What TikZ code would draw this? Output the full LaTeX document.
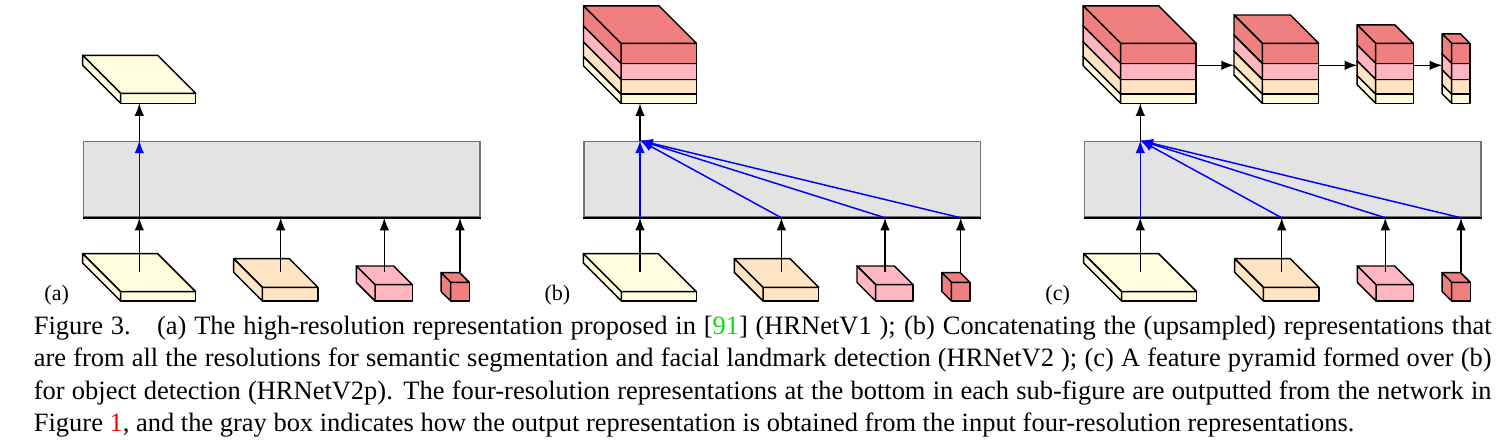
\documentclass[tikz,border=0pt]{standalone}
\usepackage{fontspec}
\setmainfont{Liberation Serif}
\usetikzlibrary{arrows}

\definecolor{resyellow}{HTML}{FFFDDD}
\definecolor{respeach}{HTML}{FFE4C4}
\definecolor{respink}{HTML}{FFB6C1}
\definecolor{resred}{HTML}{F08080}
\definecolor{boxgray}{HTML}{E3E3E3}
\definecolor{citegreen}{HTML}{00E000}

\newcommand{\px}{0.34pt}
\newcommand{\capline}[1]{\makebox[495.6pt][s]{#1}}

% cuboid: name, front-left-bottom x, y, width, height, depth, colour
\newcommand{\cuboid}[7]{%
  \begin{scope}[shift={(#2,#3)}]
    \filldraw[face, fill=#7] (0,0) rectangle (#4,-#5);
    \filldraw[face, fill=#7] (0,-#5) -- ++(-#6,-#6) -- ++(#4,0) -- ++(#6,#6) -- cycle;
    \filldraw[face, fill=#7] (0,0) -- (0,-#5) -- ++(-#6,-#6) -- ++(0,#5) -- cycle;
    \coordinate (#1) at (0,0);
  \end{scope}}

% four stacked layers: name, x, y, width, depth
\newcommand{\layers}[5]{%
  \cuboid{#1-l1}{#2}{#3}{#4}{9.3}{#5}{resyellow}
  \cuboid{#1-l2}{#2}{#3-9.3}{#4}{14.7}{#5}{respeach}
  \cuboid{#1-l3}{#2}{#3-24}{#4}{16}{#5}{respink}
  \cuboid{#1-l4}{#2}{#3-40}{#4}{20}{#5}{resred}
  \coordinate (#1) at (#2,#3);
  \coordinate (#1-east) at (#2+#4,#3-38);
  \coordinate (#1-west) at (#2-#5,#3-38);}

\begin{document}
\begin{tikzpicture}[x=\px, y=-\px,
    face/.style={draw=black, line width=0.5pt, line join=round},
    fusebox/.style={anchor=north west, draw=black!55, fill=boxgray, line width=0.6pt,
      inner sep=0pt, minimum width=396.3*\px, minimum height=75.5*\px},
    link/.style={-latex, line width=0.5pt},
    fuse/.style={-latex, blue, line width=0.5pt},
    sublabel/.style={anchor=base, font=\fontsize{7.5}{9}\selectfont},
    caption/.style={anchor=north west, inner sep=0pt, align=left, font=\fontsize{9}{11.05}\selectfont}]
  \useasboundingbox (0,0) rectangle (1503,440);

  % common part of the three panels
  \foreach \p/\dx in {a/0, b/500.7, c/1001} {
    \begin{scope}[shift={(\dx,0)}]
      \cuboid{\p-s1}{120.7}{301}{75}{9.3}{38}{resyellow}
      \cuboid{\p-s2}{262.3}{301}{55.7}{13.7}{28.6}{respeach}
      \cuboid{\p-s3}{375}{301}{37.3}{16.3}{18.7}{respink}
      \cuboid{\p-s4}{450.7}{301}{18.6}{18.7}{9.6}{resred}
      \node[fusebox] (\p-box) at (82.7,140.5) {};
      \draw[line width=0.5pt] (\p-box.south west) -- (\p-box.south east);
      \coordinate (\p-i1) at (139.3,272.3);
      \coordinate (\p-i2) at (280.7,272.3);
      \coordinate (\p-i3) at (384.3,272.3);
      \coordinate (\p-i4) at (460,272.3);
      \draw[link] (\p-i1) -- (\p-i1 |- \p-box.south);
      \draw[link] (\p-i2) -- (\p-i2 |- \p-box.south);
      \draw[link] (\p-i3) -- (\p-i3 |- \p-box.south);
      \draw[link] (\p-i4) -- (\p-i4 |- \p-box.south);
      \node[sublabel] (\p-lab) at (56.7,300) {(\p)};
    \end{scope}
  }

  % (a)
  \draw[fuse] (a-i1 |- a-box.south) -- (a-i1 |- a-box.north);
  \cuboid{a-out}{120.7}{103.3}{75}{10}{38}{resyellow}
  \draw[link] (a-i1 |- a-box.north) -- (a-i1 |- a-out);

  % (b)
  \draw[fuse] (b-i1 |- b-box.south) -- (b-i1 |- b-box.north);
  \draw[fuse] (b-i2 |- b-box.south) -- (b-i1 |- b-box.north);
  \draw[fuse] (b-i3 |- b-box.south) -- (b-i1 |- b-box.north);
  \draw[fuse] (b-i4 |- b-box.south) -- (b-i1 |- b-box.north);
  \layers{b-out}{621}{103.3}{75.5}{37.5}
  \draw[link] (b-i1 |- b-box.north) -- (b-i1 |- b-out);

  % (c)
  \draw[fuse] (c-i1 |- c-box.south) -- (c-i1 |- c-box.north);
  \draw[fuse] (c-i2 |- c-box.south) -- (c-i1 |- c-box.north);
  \draw[fuse] (c-i3 |- c-box.south) -- (c-i1 |- c-box.north);
  \draw[fuse] (c-i4 |- c-box.south) -- (c-i1 |- c-box.north);
  \layers{c-o1}{1120.7}{103.3}{75.5}{37.5}
  \layers{c-o2}{1262.3}{103.3}{56.4}{28.3}
  \layers{c-o3}{1375.7}{103.3}{37.6}{18.5}
  \layers{c-o4}{1451.7}{103.3}{18.3}{9.5}
  \draw[link] (c-i1 |- c-box.north) -- (c-i1 |- c-o1);
  \draw[link] (c-o1-east) -- (c-o2-west);
  \draw[link] (c-o2-east) -- (c-o3-west);
  \draw[link] (c-o3-east) -- (c-o4-west);

  % caption
  \node[caption] (cap) at (33.3,315.2) {%
    \capline{Figure 3.\quad (a) The high-resolution representation proposed in [\textcolor{citegreen}{91}] (HRNetV1 ); (b) Concatenating the (upsampled) representations that}\\
    \capline{are from all the resolutions for semantic segmentation and facial landmark detection (HRNetV2 ); (c) A feature pyramid formed over (b)}\\
    \capline{for object detection (HRNetV2p). The four-resolution representations at the bottom in each sub-figure are outputted from the network in}\\
    Figure \textcolor{red}{1}, and the gray box indicates how the output representation is obtained from the input four-resolution representations.};
\end{tikzpicture}
\end{document}
